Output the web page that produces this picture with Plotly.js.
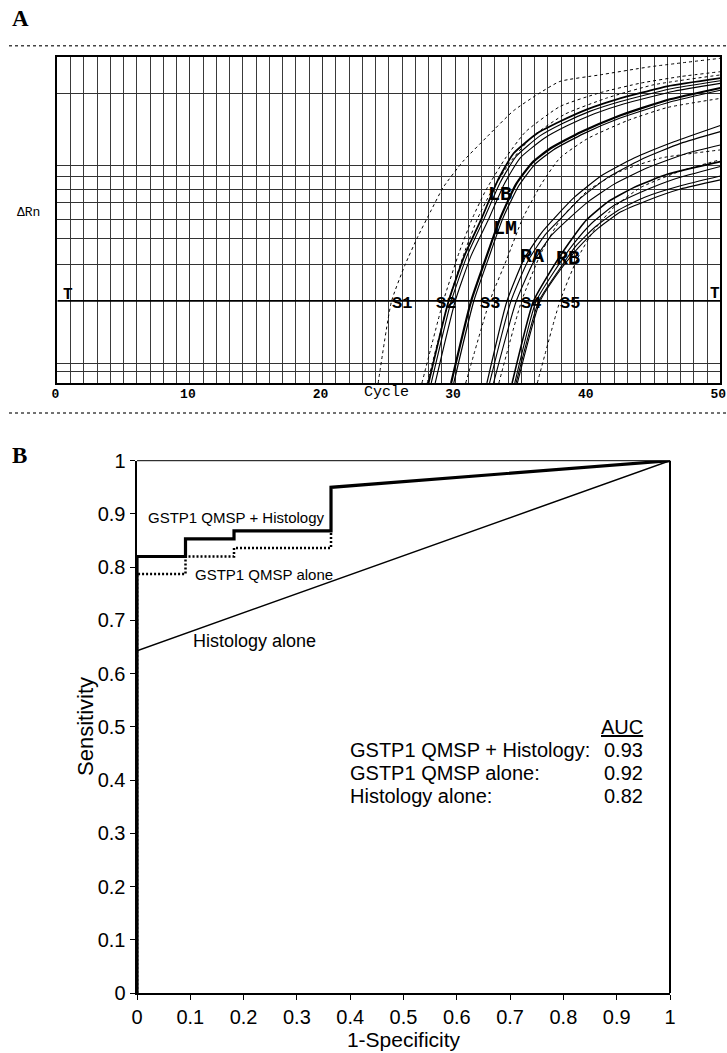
<!DOCTYPE html>
<html><head><meta charset="utf-8">
<script src="https://cdn.plot.ly/plotly-3.0.1.min.js"></script>
<style>html,body{margin:0;padding:0;background:#fff}</style>
</head><body><div id="chart" style="width:727px;height:1053px"></div>
<script>
// ---------- Panel A: amplification plot (cycle vs relative dRn, % of plot height) ----------
const cycleTickVals = [0, 10, 20, 30, 40, 50];
const rnGridVals = [3.5, 6.1, 36.2, 44.2, 50.3, 55.3, 59.4, 63.3, 66.6, 88.7];
const thresholdRn = 25.2;

const s1Cycle = [24.2,25.2,26.2,27.2,28.2,29.1,30.6,32.4,34.4,36.2,37.9,40.9,44.7,50];
const s1Rn    = [0,25,36,45,53,60,68,75.5,83.5,88.5,92.5,94.5,97,99.6];
const s2aCycle = [27.5,29.1,30.3,31.3,32.3,33.8,35.3,37.9,40.9,44,47,50];
const s2aRn    = [0,25,40,50.5,59,69,77,84.8,89,92,94,95.5];
const s2bCycle = [27.9,29.5,30.7,31.7,32.7,34.2,35.8,38.3,41.5,45,50];
const s2bRn    = [0,25,40,50.5,58.5,68,75.5,82.5,87.5,91.5,94.5];
const lb1Cycle = [28.0,29.5,30.7,32.0,33.2,34.4,36.2,37.9,40.0,42.2,46.0,50];
const lb1Rn    = [0,25,39,50.5,62,70.4,76.6,80.2,84,87,91,93.5];
const lb2Cycle = [28.2,29.7,30.9,32.2,33.4,34.6,36.4,38.1,40.2,42.4,46.2,50];
const lb2Rn    = [0,25,39,50.5,61.5,69.5,75.8,79.6,83.4,86.3,90.2,92.7];
const lb3Cycle = [28.5,30.0,31.2,32.5,33.7,34.9,36.7,38.4,40.5,42.7,46.5,50];
const lb3Rn    = [0,25,39,50,61,69,75,78.8,82.6,85.6,89.5,91.9];
const lm1Cycle = [29.7,31.2,32.3,33.4,34.6,35.8,37.2,39.5,42.2,46.0,50];
const lm1Rn    = [0,25,38,50.5,61,67.5,72,77,81.7,86.8,90.5];
const lm2Cycle = [29.9,31.4,32.5,33.6,34.8,36.0,37.4,39.7,42.4,46.2,50];
const lm2Rn    = [0,25,38,50.5,60.5,67,71.5,76.5,81.2,86.2,89.8];
const s3Cycle = [30.8,32.6,33.9,35.1,36.5,37.9,40,43,46,50];
const s3Rn    = [0,25,38,50.5,61,69,75,80.5,84.5,87.3];
const ra1Cycle = [32.4,33.9,35.2,36.5,37.7,39.0,41.0,43.5,46.5,50];
const ra1Rn    = [0,25,38,46,51.5,57,63.5,69,74,79];
const ra2Cycle = [32.6,34.2,35.5,36.8,38.1,39.4,41.5,44.0,47.0,50];
const ra2Rn    = [0,25,37.5,45.5,51,56.5,63,68.5,73.5,77.1];
const ra3Cycle = [32.9,34.6,35.9,37.2,38.6,40.0,42.0,44.5,47.5,50];
const ra3Rn    = [0,25,37,45,50.5,55.5,61,66,70.5,73];
const s4Cycle = [33.3,35.0,36.5,38.0,40.0,42.5,45.5,50];
const s4Rn    = [0,25,40,50.5,59,65,69,71.5];
const rb1Cycle = [34.3,35.9,37.3,38.6,39.9,41.5,43.5,46.0,50];
const rb1Rn    = [0,25,35,43,50,55.5,60,64,67.9];
const rb2Cycle = [34.5,36.1,37.6,38.9,40.3,42.0,44.0,46.5,50];
const rb2Rn    = [0,25,35,42.5,49,54.5,58.5,62.5,66.4];
const rb3Cycle = [34.7,36.4,37.9,39.3,40.8,42.5,44.5,47.0,50];
const rb3Rn    = [0,25,34.5,41.5,47.5,52.5,56,59.5,62.3];
const rb4Cycle = [34.6,36.3,37.8,39.1,40.6,42.3,44.3,47.0,50];
const rb4Rn    = [0,25,34.5,42,48,53,57,60.5,63.5];
const s5Cycle = [36.2,37.9,39.2,40.5,42.0,44.0,47.0,50];
const s5Rn    = [0,25,38,47,54,60,65,68.5];

const standardLabels = ['S1','S2','S3','S4','S5'];
const standardLabelCycles = [26.0, 29.3, 32.6, 35.7, 38.7];
const sampleLabels = ['LB','LM','RA','RB'];
const sampleLabelCycles = [33.4, 33.8, 35.8, 38.5];
const sampleLabelRn = [57.7, 47.5, 38.7, 38.3];

// ---------- Panel B: ROC curves ----------
const fprCombined = [0, 0, 0.091, 0.091, 0.182, 0.182, 0.364, 0.364, 1];
const tprCombined = [0, 0.82, 0.82, 0.853, 0.853, 0.868, 0.868, 0.95, 1];
const fprQmsp = [0, 0, 0.091, 0.091, 0.182, 0.182, 0.364, 0.364];
const tprQmsp = [0, 0.787, 0.787, 0.82, 0.82, 0.836, 0.836, 0.868];
const fprHist = [0, 0, 1];
const tprHist = [0, 0.643, 1];
const aucNames = ['GSTP1 QMSP + Histology:', 'GSTP1 QMSP alone:', 'Histology alone:'];
const aucValues = ['0.93', '0.92', '0.82'];

const mono = 'Liberation Mono, Courier New, monospace';
const sans = 'Liberation Sans, Arial, sans-serif';
const W = 727, H = 1053;
const px = v => v / W;
const py = v => 1 - v / H;

function curveA(c, h, dashed, width) {
  return {type:'scatter', mode:'lines', x:c, y:h, xaxis:'x', yaxis:'y',
    line:{color:'#000', width:width, dash: dashed ? '3px,3px' : 'solid', shape:'spline', smoothing:0.5},
    hoverinfo:'skip', showlegend:false};
}

const traces = [
  curveA(s1Cycle, s1Rn, true, 1),
  curveA(s2aCycle, s2aRn, true, 1),
  curveA(s2bCycle, s2bRn, true, 1),
  curveA(s3Cycle, s3Rn, true, 1),
  curveA(s4Cycle, s4Rn, true, 1),
  curveA(s5Cycle, s5Rn, true, 1),
  curveA(lb1Cycle, lb1Rn, false, 1.8),
  curveA(lb2Cycle, lb2Rn, false, 1.1),
  curveA(lb3Cycle, lb3Rn, false, 1.1),
  curveA(lm1Cycle, lm1Rn, false, 2.2),
  curveA(lm2Cycle, lm2Rn, false, 1.2),
  curveA(ra1Cycle, ra1Rn, false, 1.2),
  curveA(ra2Cycle, ra2Rn, false, 1.1),
  curveA(ra3Cycle, ra3Rn, false, 1.1),
  curveA(rb1Cycle, rb1Rn, false, 1.6),
  curveA(rb2Cycle, rb2Rn, false, 1.1),
  curveA(rb3Cycle, rb3Rn, false, 1.1),
  curveA(rb4Cycle, rb4Rn, false, 1.1),
  {type:'scatter', mode:'lines', x:[cycleTickVals[0], cycleTickVals[cycleTickVals.length-1]], y:[thresholdRn, thresholdRn],
   xaxis:'x', yaxis:'y', line:{color:'#000', width:1.6}, hoverinfo:'skip', showlegend:false},
  // Panel B
  {type:'scatter', mode:'lines', x:fprHist, y:tprHist, xaxis:'x2', yaxis:'y2',
   line:{color:'#000', width:1.5}, hoverinfo:'skip', showlegend:false},
  {type:'scatter', mode:'lines', x:fprQmsp, y:tprQmsp, xaxis:'x2', yaxis:'y2',
   line:{color:'#000', width:2.5, dash:'2px,2px'}, hoverinfo:'skip', showlegend:false},
  {type:'scatter', mode:'lines', x:fprCombined, y:tprCombined, xaxis:'x2', yaxis:'y2',
   line:{color:'#000', width:3.2}, hoverinfo:'skip', showlegend:false}
];

function ann(o) { return Object.assign({showarrow:false, xanchor:'center', yanchor:'middle'}, o); }

const annotations = [];
annotations.push(ann({xref:'paper', yref:'paper', x:px(20), y:py(19), text:'<b>A</b>',
  font:{family:'Liberation Serif, Times New Roman, serif', size:23, color:'#000'}}));
annotations.push(ann({xref:'paper', yref:'paper', x:px(19), y:py(456), text:'<b>B</b>',
  font:{family:'Liberation Serif, Times New Roman, serif', size:23, color:'#000'}}));
annotations.push(ann({xref:'paper', yref:'paper', x:px(29), y:py(213), text:'\u0394Rn',
  font:{family:mono, size:13, color:'#000'}}));
annotations.push(ann({xref:'x', yref:'paper', x:24.8, y:py(392), text:'Cycle',
  font:{family:mono, size:15, color:'#000'}}));
annotations.push(ann({xref:'x', yref:'y', x:0.8, y:thresholdRn + 1.8, text:'<b>T</b>',
  font:{family:mono, size:16, color:'#000'}}));
annotations.push(ann({xref:'x', yref:'y', x:49.6, y:thresholdRn + 2.0, text:'<b>T</b>',
  font:{family:mono, size:16, color:'#000'}}));
standardLabels.forEach((t, i) => annotations.push(ann({xref:'x', yref:'y', x:standardLabelCycles[i], y:thresholdRn - 0.7,
  text:'<b>' + t + '</b>', font:{family:mono, size:17, color:'#000'}})));
sampleLabels.forEach((t, i) => annotations.push(ann({xref:'x', yref:'y', x:sampleLabelCycles[i], y:sampleLabelRn[i],
  text:'<b>' + t + '</b>', font:{family:mono, size:20, color:'#000'}})));

// Panel B labels
annotations.push(ann({xref:'paper', yref:'paper', x:px(85), y:py(727), textangle:-90, text:'Sensitivity',
  font:{family:sans, size:22, color:'#000'}}));
annotations.push(ann({xref:'x2', yref:'y2', x:0.186, y:0.894, text:'GSTP1 QMSP + Histology',
  font:{family:sans, size:15, color:'#000'}}));
annotations.push(ann({xref:'x2', yref:'y2', x:0.239, y:0.787, text:'GSTP1 QMSP alone',
  font:{family:sans, size:15, color:'#000'}}));
annotations.push(ann({xref:'x2', yref:'y2', x:0.220, y:0.662, text:'Histology alone',
  font:{family:sans, size:18, color:'#000'}}));
annotations.push(ann({xref:'x2', yref:'y2', x:0.953, y:0.5, xanchor:'right', text:'<u>AUC</u>',
  font:{family:sans, size:20, color:'#000'}}));
aucNames.forEach((n, i) => {
  const yy = 0.457 - i * 0.043;
  annotations.push(ann({xref:'x2', yref:'y2', x:0.396, y:yy, xanchor:'left', text:n,
    font:{family:sans, size:20, color:'#000'}}));
  annotations.push(ann({xref:'x2', yref:'y2', x:0.953, y:yy, xanchor:'right', text:aucValues[i],
    font:{family:sans, size:20, color:'#000'}}));
});

const shapes = [
  {type:'line', xref:'paper', yref:'paper', x0:px(9), x1:1, y0:py(45.7), y1:py(45.7),
   line:{color:'#444', width:1.5, dash:'dot'}},
  {type:'line', xref:'paper', yref:'paper', x0:px(9), x1:1, y0:py(413), y1:py(413),
   line:{color:'#444', width:1.5, dash:'dot'}},
  {type:'line', xref:'x2 domain', yref:'y2 domain', x0:0, x1:1, y0:1, y1:1, line:{color:'#000', width:1}},
  {type:'line', xref:'x2 domain', yref:'y2 domain', x0:1, x1:1, y0:0, y1:1, line:{color:'#000', width:2}}
];

const layout = {
  width: W, height: H,
  margin: {l:0, r:0, t:0, b:0},
  paper_bgcolor:'#fff', plot_bgcolor:'#fff',
  showlegend:false,
  font:{family:sans, color:'#000'},
  xaxis: {domain:[px(57.3), px(720.3)], range:[0, 50], anchor:'y',
    tickvals: cycleTickVals, ticks:'', tickfont:{family:mono, size:13, color:'#000', weight:'bold'},
    ticklabeloverflow:'allow', ticklabelstandoff:-3, ticklabelshift:-2,
    showgrid:true, gridcolor:'#333', gridwidth:1,
    minor:{dtick:1, showgrid:true, gridcolor:'#3a3a3a', gridwidth:1},
    showline:true, linecolor:'#000', linewidth:2, mirror:true, zeroline:false, fixedrange:true},
  yaxis: {domain:[py(383), py(57)], range:[0, 100], anchor:'x',
    tickvals: rnGridVals, showticklabels:false, ticks:'',
    showgrid:true, gridcolor:'#333', gridwidth:1,
    showline:true, linecolor:'#000', linewidth:2, mirror:true, zeroline:false, fixedrange:true},
  xaxis2: {domain:[px(137), px(670)], range:[0, 1], anchor:'y2', dtick:0.1, tick0:0,
    ticks:'outside', ticklen:5, tickwidth:1, tickcolor:'#000',
    tickfont:{family:sans, size:20, color:'#000'}, ticklabeloverflow:'allow',
    title:{text:'1-Specificity', font:{family:sans, size:21, color:'#000'}, standoff:4},
    showgrid:false, showline:true, linecolor:'#000', linewidth:2, zeroline:false, fixedrange:true},
  yaxis2: {domain:[py(993), py(460.7)], range:[0, 1], anchor:'x2', dtick:0.1, tick0:0,
    ticks:'outside', ticklen:5, tickwidth:1, tickcolor:'#000',
    tickfont:{family:sans, size:20, color:'#000'}, ticklabeloverflow:'allow',
    showgrid:false, showline:true, linecolor:'#000', linewidth:2.5, zeroline:false, fixedrange:true},
  annotations: annotations,
  shapes: shapes
};

Plotly.newPlot('chart', traces, layout, {displayModeBar:false, staticPlot:true});
</script>
</body></html>
